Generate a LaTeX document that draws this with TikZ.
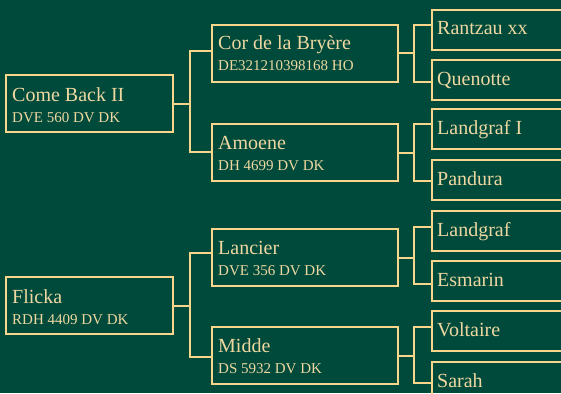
\documentclass[tikz,border=0pt]{standalone}
\usepackage{fontspec}
\setmainfont{Liberation Serif}
\definecolor{bg}{RGB}{0,74,60}
\definecolor{gold}{RGB}{250,214,140}
\definecolor{txt}{RGB}{238,216,160}
\begin{document}
\begin{tikzpicture}[x=1pt,y=-1pt,
  box/.style={draw=gold,line width=2pt,rectangle,inner sep=0pt,anchor=north west},
  g1/.style={box,minimum width=167pt,minimum height=57pt},
  g2/.style={box,minimum width=186pt,minimum height=57pt},
  g3/.style={box,minimum width=150pt,minimum height=40pt},
  nm/.style={anchor=base west,inner sep=0pt,text=txt,font=\fontsize{20}{21}\selectfont},
  rg/.style={anchor=base west,inner sep=0pt,text=txt,font=\fontsize{15}{16}\selectfont},
  ln/.style={draw=gold,line width=2pt}]
\fill[bg] (0,0) rectangle (561,393);
\useasboundingbox (0,0) rectangle (561,393);
\clip (0,0) rectangle (561,393);
% generation 1
\node[g1] (cb) at (5,74) {};
\node[g1] (fl) at (5,276) {};
% generation 2
\node[g2] (cor) at (211,24) {};
\node[g2] (amo) at (211,123) {};
\node[g2] (lan) at (211,228) {};
\node[g2] (mid) at (211,326) {};
% generation 3
\node[g3] (ra) at (431,9) {};
\node[g3] (qu) at (431,59) {};
\node[g3] (li) at (431,108) {};
\node[g3] (pa) at (431,159) {};
\node[g3] (la) at (431,210) {};
\node[g3] (es) at (431,260) {};
\node[g3] (vo) at (431,310) {};
\node[g3] (sa) at (431,361) {};
% texts
\node[nm] at ([xshift=7,yshift=-27]cb.north west) {Come Back II};
\node[rg] at ([xshift=7,yshift=-48]cb.north west) {DVE 560 DV DK};
\node[nm] at ([xshift=7,yshift=-27]fl.north west) {Flicka};
\node[rg] at ([xshift=7,yshift=-48]fl.north west) {RDH 4409 DV DK};
\node[nm] at ([xshift=7,yshift=-26]cor.north west) {Cor de la Bryère};
\node[rg] at ([xshift=7,yshift=-47]cor.north west) {DE321210398168 HO};
\node[nm] at ([xshift=7,yshift=-26]amo.north west) {Amoene};
\node[rg] at ([xshift=7,yshift=-47]amo.north west) {DH 4699 DV DK};
\node[nm] at ([xshift=7,yshift=-26]lan.north west) {Lancier};
\node[rg] at ([xshift=7,yshift=-47]lan.north west) {DVE 356 DV DK};
\node[nm] at ([xshift=7,yshift=-26]mid.north west) {Midde};
\node[rg] at ([xshift=7,yshift=-47]mid.north west) {DS 5932 DV DK};
\node[nm] at ([xshift=6,yshift=-26]ra.north west) {Rantzau xx};
\node[nm] at ([xshift=6,yshift=-26]qu.north west) {Quenotte};
\node[nm] at ([xshift=6,yshift=-26]li.north west) {Landgraf I};
\node[nm] at ([xshift=6,yshift=-26]pa.north west) {Pandura};
\node[nm] at ([xshift=6,yshift=-26]la.north west) {Landgraf};
\node[nm] at ([xshift=6,yshift=-26]es.north west) {Esmarin};
\node[nm] at ([xshift=6,yshift=-26]vo.north west) {Voltaire};
\node[nm] at ([xshift=6,yshift=-26]sa.north west) {Sarah};
% connectors gen1 -> gen2
\draw[ln] ([yshift=-27]cor.north west) -- ++(-21,0) coordinate (f1) |- ([yshift=-29]amo.north west);
\draw[ln] (cb.east) -- (cb.east -| f1);
\draw[ln] ([yshift=-25]lan.north west) -- ++(-21,0) coordinate (f2) |- ([yshift=-31]mid.north west);
\draw[ln] (fl.east) -- (fl.east -| f2);
% connectors gen2 -> gen3
\draw[ln] ([yshift=-16]ra.north west) -- ++(-17,0) coordinate (h1) |- ([yshift=-23]qu.north west);
\draw[ln] (cor.east) -- (cor.east -| h1);
\draw[ln] ([yshift=-16]li.north west) -- ++(-17,0) coordinate (h2) |- ([yshift=-22]pa.north west);
\draw[ln] (amo.east) -- (amo.east -| h2);
\draw[ln] ([yshift=-17]la.north west) -- ++(-17,0) coordinate (h3) |- ([yshift=-24]es.north west);
\draw[ln] (lan.east) -- (lan.east -| h3);
\draw[ln] ([yshift=-17]vo.north west) -- ++(-17,0) coordinate (h4) |- ([yshift=-22]sa.north west);
\draw[ln] (mid.east) -- (mid.east -| h4);
\end{tikzpicture}
\end{document}
